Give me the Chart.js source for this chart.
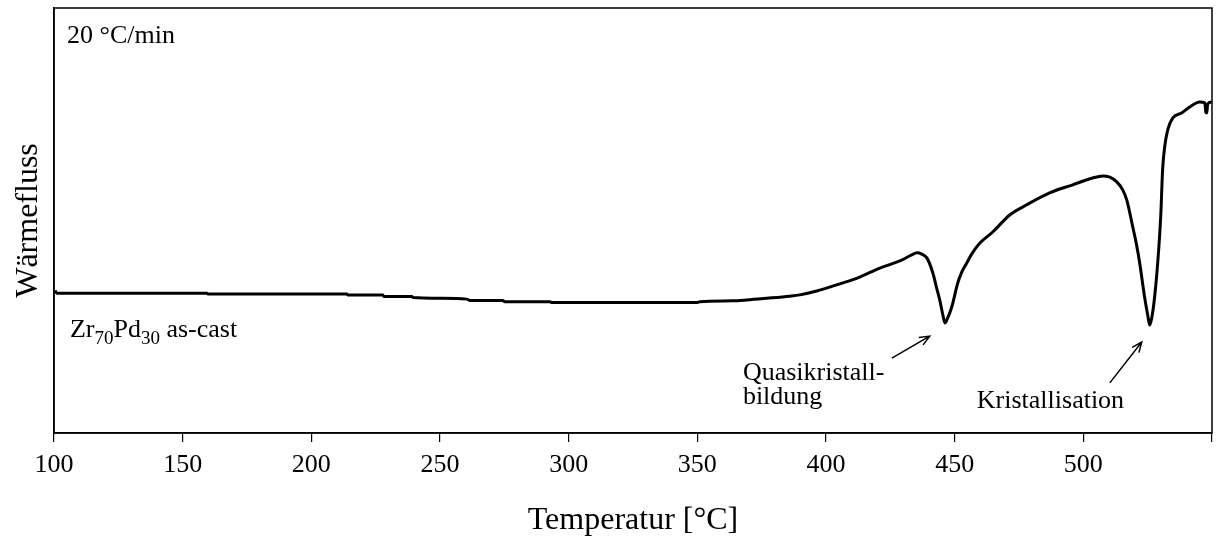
<!DOCTYPE html>
<html>
<head>
<meta charset="utf-8">
<script src="https://cdn.jsdelivr.net/npm/chart.js@4/dist/chart.umd.min.js"></script>
<style>
  html, body { margin: 0; padding: 0; background: #fff; }
  #dsc { display: block; }
</style>
</head>
<body>
<canvas id="dsc" width="1220" height="537"></canvas>
<script>
// DSC trace, heating rate 20 °C/min (heat flow in arbitrary units)
const temperature = [
  100.4, 101.2, 159.4, 159.8, 213.8, 214.2, 227.8, 228.2, 239.1, 239.5,
  250.0, 260.4, 261.6, 274.4, 275.2, 292.7, 293.5, 349.8, 351.0, 363.8,
  369.2, 377.0, 385.9, 389.8, 396.4, 405.4, 413.1, 420.9, 428.7, 433.3,
  435.3, 437.2, 439.2, 441.5, 443.0, 444.2, 445.4, 446.2, 447.3, 448.9,
  451.2, 452.8, 454.7, 456.6, 459.8, 464.8, 471.4, 478.0, 486.9, 495.9,
  503.6, 507.5, 510.3, 513.0, 515.3, 516.9, 519.2, 520.7, 521.9, 523.8,
  525.0, 525.8, 526.6, 527.7, 528.9, 530.1, 530.8, 531.6, 532.8, 534.7,
  538.2, 541.3, 545.2, 547.2, 547.6, 548.0, 548.3, 549.9
];
const heatFlow = [
  3.35, 3.29, 3.29, 3.27, 3.27, 3.25, 3.25, 3.21, 3.21, 3.19,
  3.17, 3.15, 3.12, 3.12, 3.09, 3.09, 3.07, 3.07, 3.09, 3.11,
  3.13, 3.17, 3.22, 3.25, 3.34, 3.51, 3.67, 3.88, 4.05, 4.19,
  4.24, 4.21, 4.12, 3.77, 3.41, 3.13, 2.78, 2.59, 2.71, 2.97,
  3.53, 3.79, 4.00, 4.21, 4.47, 4.73, 5.13, 5.37, 5.65, 5.84,
  6.00, 6.05, 6.02, 5.91, 5.72, 5.48, 4.85, 4.42, 4.00, 3.20,
  2.78, 2.54, 2.71, 3.20, 4.00, 5.13, 6.19, 6.73, 7.13, 7.41,
  7.53, 7.67, 7.79, 7.77, 7.55, 7.53, 7.74, 7.79
];
const xTicks = [100, 150, 200, 250, 300, 350, 400, 450, 500];

// text notes, placed in data units
const notes = [
  { text: '20 °C/min', x: 105.1, y: 9.18 },
  { text: 'Quasikristall-', x: 367.7, y: 1.25 },
  { text: 'bildung', x: 367.7, y: 0.68 },
  { text: 'Kristallisation', x: 458.6, y: 0.59 }
];
const arrows = [
  { from: [425.6, 1.76], to: [440.3, 2.28] },
  { from: [510.3, 1.18], to: [522.7, 2.14] }
];
const sample = { x: 106.2, y: 2.26 };

const SERIF = '"Liberation Serif", "Times New Roman", serif';

const annotate = {
  id: 'annotate',
  afterDraw(chart) {
    const { ctx, chartArea, scales } = chart;
    const px = v => scales.x.getPixelForValue(v);
    const py = v => scales.y.getPixelForValue(v);
    ctx.save();

    // frame
    ctx.strokeStyle = '#000';
    ctx.lineWidth = 1.5;
    ctx.strokeRect(chartArea.left, chartArea.top, chartArea.right - chartArea.left, chartArea.bottom - chartArea.top);

    ctx.fillStyle = '#000';
    ctx.textBaseline = 'alphabetic';
    ctx.textAlign = 'left';
    ctx.font = '26px ' + SERIF;
    notes.forEach(n => ctx.fillText(n.text, px(n.x), py(n.y)));

    // Zr70Pd30 as-cast with subscripts
    let x = px(sample.x);
    const y = py(sample.y);
    const parts = [['Zr', 0], ['70', 1], ['Pd', 0], ['30', 1], [' as-cast', 0]];
    parts.forEach(([t, sub]) => {
      ctx.font = (sub ? '19px ' : '26px ') + SERIF;
      ctx.fillText(t, x, sub ? y + 7 : y);
      x += ctx.measureText(t).width;
    });

    // arrows
    ctx.lineWidth = 1.5;
    arrows.forEach(a => {
      const x0 = px(a.from[0]), y0 = py(a.from[1]);
      const x1 = px(a.to[0]), y1 = py(a.to[1]);
      const ang = Math.atan2(y1 - y0, x1 - x0);
      ctx.beginPath();
      ctx.moveTo(x0, y0);
      ctx.lineTo(x1, y1);
      ctx.moveTo(x1 - 11 * Math.cos(ang - 0.4), y1 - 11 * Math.sin(ang - 0.4));
      ctx.lineTo(x1, y1);
      ctx.lineTo(x1 - 11 * Math.cos(ang + 0.4), y1 - 11 * Math.sin(ang + 0.4));
      ctx.stroke();
    });
    ctx.restore();
  }
};

new Chart(document.getElementById('dsc'), {
  type: 'line',
  data: {
    datasets: [{
      data: temperature.map((t, i) => ({ x: t, y: heatFlow[i] })),
      borderColor: '#000',
      borderWidth: 3,
      pointRadius: 0,
      cubicInterpolationMode: 'monotone',
      fill: false
    }]
  },
  options: {
    responsive: false,
    animation: false,
    layout: { padding: { top: 8, right: 6 } },
    plugins: { legend: { display: false }, tooltip: { enabled: false } },
    scales: {
      x: {
        type: 'linear',
        min: 100,
        max: 550,
        afterBuildTicks: scale => {
          scale.ticks = xTicks.concat([550]).map(v => ({ value: v }));
        },
        afterFit: scale => { scale.height = 104; },
        grid: { drawOnChartArea: false, tickLength: 9, color: '#000', lineWidth: 1.2 },
        border: { color: '#000', width: 1.5 },
        ticks: {
          color: '#000',
          padding: 8,
          maxRotation: 0,
          font: { family: SERIF, size: 26 },
          callback: v => xTicks.includes(v) ? String(v) : ''
        },
        title: {
          display: true,
          text: 'Temperatur [°C]',
          color: '#000',
          font: { family: SERIF, size: 32, lineHeight: 1 },
          padding: { top: 0, bottom: 0 }
        }
      },
      y: {
        min: 0,
        max: 10,
        afterFit: scale => { scale.width = 54; },
        grid: { display: false },
        border: { color: '#000', width: 1.5 },
        ticks: { display: false },
        title: {
          display: true,
          text: 'Wärmefluss',
          color: '#000',
          font: { family: SERIF, size: 32, lineHeight: 1 },
          padding: { top: 13, bottom: 0 }
        }
      }
    }
  },
  plugins: [annotate]
});
</script>
</body>
</html>
